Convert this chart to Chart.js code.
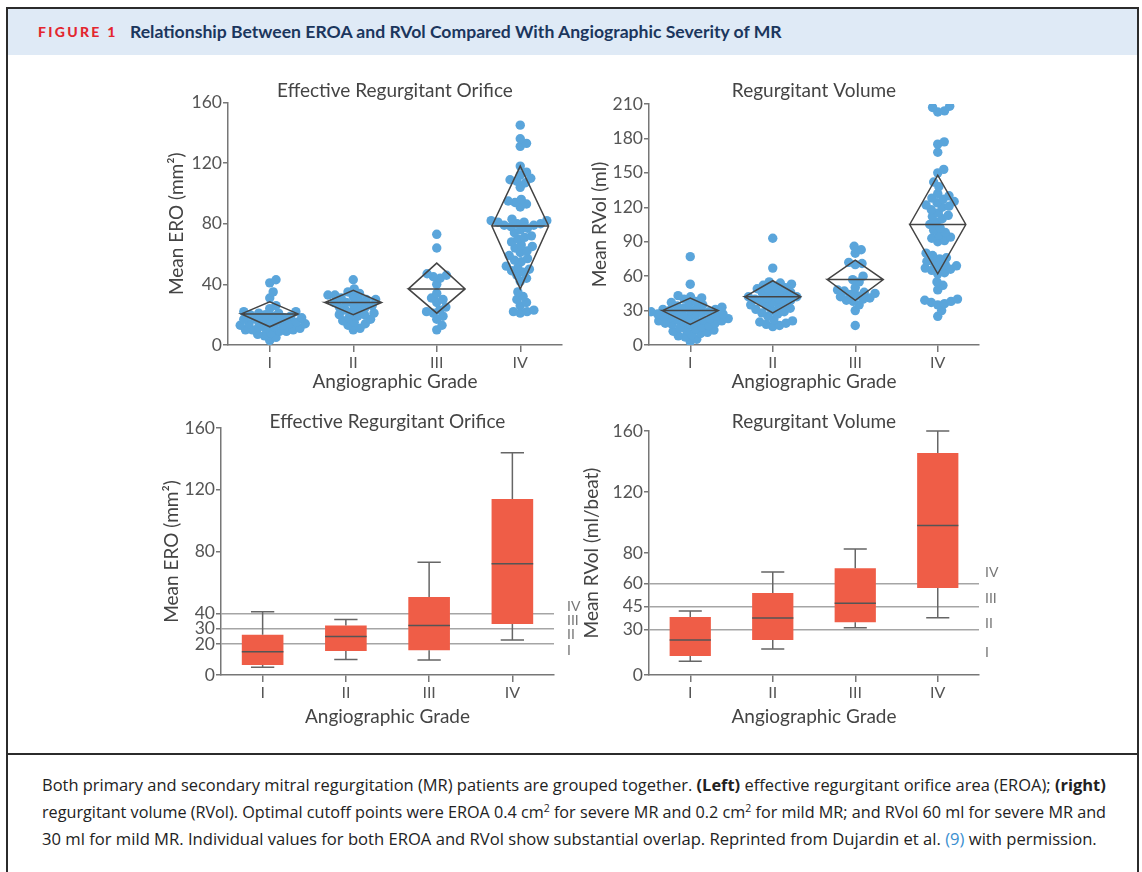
<!DOCTYPE html>
<html>
<head>
<meta charset="utf-8">
<script src="https://cdn.jsdelivr.net/npm/chart.js@4.4.1/dist/chart.umd.min.js"></script>
<style>
  body { margin: 0; background: #fff; width: 1142px; height: 872px; overflow: hidden; position: relative; font-family: Lato, "Open Sans", sans-serif; }
  .frame { position: absolute; left: 6px; top: 7px; width: 1133px; height: 900px; border: 2px solid #2b2b2b; box-sizing: border-box; }
  .head { position: absolute; left: 8px; top: 9px; width: 1129px; height: 46px; background: #dfeaf6; }
  .fig { position: absolute; left: 38px; top: 23px; font-size: 14px; font-weight: 900; letter-spacing: 2.3px; color: #e3262f; }
  .ttl { position: absolute; left: 130px; top: 21px; font-size: 17.6px; font-weight: 700; color: #1b365d; white-space: nowrap; }
  .rule { position: absolute; left: 6px; top: 753px; width: 1133px; height: 2px; background: #2b2b2b; }
  .cap { position: absolute; left: 42px; font-family: "Open Sans", Lato, sans-serif; font-size: 15px; line-height: 20px; color: #222; white-space: nowrap; }
  .cap sup { font-size: 0.65em; line-height: 0; }
  .cap .ref { color: #3a8fd0; }
  canvas { position: absolute; }
</style>
</head>
<body>
<div class="frame"></div>
<div class="head"></div>
<div class="fig">FIGURE 1</div>
<div class="ttl">Relationship Between EROA and RVol Compared With Angiographic Severity of MR</div>
<div class="rule"></div>
<div class="cap" data-w="1065" style="top:775px">Both primary and secondary mitral regurgitation (MR) patients are grouped together. <b>(Left)</b> effective regurgitant orifice area (EROA); <b>(right)</b></div>
<div class="cap" data-w="1064" style="top:802px">regurgitant volume (RVol). Optimal cutoff points were EROA 0.4 cm<sup>2</sup> for severe MR and 0.2 cm<sup>2</sup> for mild MR; and RVol 60 ml for severe MR and</div>
<div class="cap" data-w="1055" style="top:829px">30 ml for mild MR. Individual values for both EROA and RVol show substantial overlap. Reprinted from Dujardin et al. <span class="ref">(9)</span> with permission.</div>

<canvas id="c1" width="420" height="315" style="left:160px;top:78px"></canvas>
<canvas id="c2" width="410" height="315" style="left:586px;top:78px"></canvas>
<canvas id="c3" width="430" height="318" style="left:156px;top:410px"></canvas>
<canvas id="c4" width="430" height="318" style="left:578px;top:410px"></canvas>

<script>
var grades = ['I', 'II', 'III', 'IV'];

// individual patients, top panels
var eroI = [43, 41, 35, 31, 26, 24, 22, 22, 21, 21, 20, 20, 19, 19, 18, 18, 17, 17, 16, 16, 15, 15, 14, 14, 14, 13, 13, 12, 12, 11, 11, 10, 10, 10, 9, 9, 8, 7, 6, 5, 3];
var eroII = [43, 37, 35, 34, 33, 33, 32, 31, 30, 30, 29, 28, 28, 27, 26, 25, 25, 24, 23, 22, 21, 20, 20, 19, 18, 17, 16, 15, 14, 13, 11, 10];
var eroIII = [73, 64, 47, 46, 45, 44, 40, 34, 31, 30, 28, 25, 23, 22, 21, 19, 17, 13, 10];
var eroIV = [145, 136, 133, 131, 118, 114, 112, 110, 109, 108, 107, 104, 96, 95, 94, 93, 91, 83, 82, 82, 81, 81, 80, 80, 79, 79, 78, 77, 76, 74, 72, 71, 70, 68, 66, 65, 64, 62, 61, 59, 57, 56, 55, 52, 51, 50, 49, 48, 46, 44, 42, 35, 32, 30, 28, 26, 23, 22, 22, 21];

var rvI = [77, 53, 43, 42, 41, 40, 38, 37, 36, 35, 34, 33, 32, 32, 31, 31, 30, 30, 29, 29, 28, 28, 27, 27, 26, 26, 25, 25, 24, 24, 23, 23, 22, 22, 21, 21, 20, 20, 19, 19, 18, 18, 17, 16, 15, 14, 13, 13, 12, 11, 10, 9, 8, 7, 5, 3];
var rvII = [93, 67, 55, 54, 53, 52, 51, 50, 49, 48, 47, 46, 45, 44, 43, 42, 42, 41, 40, 40, 39, 38, 37, 36, 35, 34, 33, 32, 31, 30, 29, 28, 27, 25, 22, 21, 20, 19, 18, 17, 16];
var rvIII = [86, 83, 80, 72, 71, 70, 60, 57, 55, 50, 48, 47, 46, 45, 44, 43, 42, 41, 40, 39, 38, 35, 30, 17];
var rvIV = [208, 207, 204, 203, 177, 175, 168, 153, 150, 142, 138, 132, 130, 128, 127, 125, 124, 122, 121, 120, 118, 115, 113, 112, 110, 107, 105, 102, 100, 98, 96, 94, 93, 91, 90, 80, 78, 76, 75, 73, 72, 70, 69, 68, 67, 66, 65, 63, 62, 55, 52, 48, 40, 39, 38, 37, 36, 35, 30, 25];

// mean diamonds
var eroMean = [20.5, 28, 37, 78.5];
var eroLow = [12, 20, 21, 37];
var eroHigh = [28.5, 36, 54, 118];
var rvMean = [30, 42, 57, 105];
var rvLow = [18, 28, 39, 62];
var rvHigh = [41, 56, 74, 148];

// box plots, bottom panels
var eroMin = [5, 10, 9.7, 22.7];
var eroQ1 = [6.5, 15.5, 16, 33];
var eroMed = [15, 25, 32, 72];
var eroQ3 = [26, 32, 50.5, 114];
var eroMax = [41, 36, 73, 144];
var rvMin = [9, 17, 31, 37.5];
var rvQ1 = [12.5, 23, 34.6, 57];
var rvMed = [23, 37.4, 47, 98];
var rvQ3 = [38, 53.8, 70, 145.5];
var rvMax = [42, 67.5, 82.6, 160];

var eroTicks = [0, 20, 30, 40, 80, 120, 160];
var eroCut = [20, 30, 40];
var eroZoneAt = [16, 26, 35.6, 44.7];
var rvTicks = [0, 30, 45, 60, 80, 120, 160];
var rvCut = [30, 45, 60];
var rvZoneAt = [15, 34, 50.5, 67.5];

Chart.defaults.font.family = 'Lato, "Open Sans", sans-serif';
Chart.defaults.color = '#555';
Chart.defaults.animation = false;

var axisGrey = '#777';

// fit caption lines to the measured widths by font size
document.querySelectorAll('.cap').forEach(function (el) {
  var target = +el.dataset.w, w = el.getBoundingClientRect().width;
  el.style.fontSize = (15 * target / w).toFixed(2) + 'px';
});

// beeswarm placement in pixel units, so dots sit side by side
function swarm(values, center, pxX, pxY) {
  var d = 7, placed = [], out = [];
  values.slice().sort(function (a, b) { return a - b; }).forEach(function (v) {
    var y = v * pxY, cands = [0];
    placed.forEach(function (p) {
      var dy = Math.abs(p.y - y);
      if (dy < d) {
        var dx = Math.sqrt(d * d - dy * dy);
        cands.push(p.x + dx, p.x - dx);
      }
    });
    cands.sort(function (a, b) { return Math.abs(a) - Math.abs(b); });
    var x = cands.find(function (c) {
      return placed.every(function (p) { return (p.x - c) * (p.x - c) + (p.y - y) * (p.y - y) >= d * d - 0.01; });
    });
    placed.push({ x: x, y: y });
    out.push({ x: center + x / pxX, y: v });
  });
  return out;
}

function diamond(g, m, lo, hi) {
  var w = 0.34;
  return [{ x: g - w, y: m }, { x: g, y: hi }, { x: g + w, y: m }, { x: g, y: lo }, { x: g - w, y: m }, { x: g + w, y: m }];
}

function swarmChart(id, title, yTitle, groups, mean, low, high, yMax, yStep, pxY, yWidth, rightPad, titlePad, yTitlePad) {
  var pts = [];
  groups.forEach(function (vals, i) { pts = pts.concat(swarm(vals, i + 1, 84, pxY)); });
  var sets = [];
  mean.forEach(function (m, i) {
    sets.push({ data: diamond(i + 1, m, low[i], high[i]), showLine: true, borderColor: '#444', borderWidth: 1.5, pointRadius: 0, fill: false });
  });
  sets.push({ data: pts, backgroundColor: '#5aa5db', pointRadius: 4.7, borderWidth: 0 });
  return new Chart(document.getElementById(id), {
    type: 'scatter',
    data: { datasets: sets },
    options: {
      responsive: false,
      layout: { padding: { right: rightPad } },
      plugins: {
        legend: { display: false },
        tooltip: { enabled: false },
        title: { display: true, text: title, fullSize: false, font: { size: 19, weight: 'normal' }, color: '#444', padding: titlePad }
      },
      scales: {
        x: {
          type: 'linear', min: 0.5, max: 4.5,
          afterBuildTicks: function (s) { s.ticks = grades.map(function (g, i) { return { value: i + 1 }; }); },
          afterFit: function (s) { s.height = 48; },
          ticks: { callback: function (v) { return grades[v - 1]; }, font: { size: 16 }, padding: 1 },
          grid: { drawOnChartArea: false, tickLength: 7, color: axisGrey, lineWidth: 1.5 },
          border: { color: axisGrey, width: 1.5 },
          title: { display: true, text: 'Angiographic Grade', font: { size: 19 }, color: '#444', padding: 0 }
        },
        y: {
          min: 0, max: yMax,
          afterFit: function (s) { s.width = yWidth; },
          ticks: { stepSize: yStep, font: { size: 17.5 }, padding: 1 },
          grid: { drawOnChartArea: false, tickLength: 5, color: axisGrey, lineWidth: 1.5 },
          border: { color: axisGrey, width: 1.5 },
          title: { display: true, text: yTitle, font: { size: 19 }, color: '#444', padding: { top: yTitlePad, bottom: 0 } }
        }
      }
    }
  });
}

function whiskers(min, q1, med, q3, max) {
  return {
    id: 'whiskers',
    afterDatasetsDraw: function (chart) {
      var ctx = chart.ctx, y = chart.scales.y;
      ctx.save();
      chart.getDatasetMeta(0).data.forEach(function (bar, i) {
        var cx = bar.x, half = bar.width / 2, cap = half * 0.56;
        ctx.strokeStyle = '#666';
        ctx.lineWidth = 1.5;
        ctx.beginPath();
        ctx.moveTo(cx, y.getPixelForValue(q3[i]));
        ctx.lineTo(cx, y.getPixelForValue(max[i]));
        ctx.moveTo(cx - cap, y.getPixelForValue(max[i]));
        ctx.lineTo(cx + cap, y.getPixelForValue(max[i]));
        ctx.moveTo(cx, y.getPixelForValue(q1[i]));
        ctx.lineTo(cx, y.getPixelForValue(min[i]));
        ctx.moveTo(cx - cap, y.getPixelForValue(min[i]));
        ctx.lineTo(cx + cap, y.getPixelForValue(min[i]));
        ctx.stroke();
        ctx.strokeStyle = '#555';
        ctx.beginPath();
        ctx.moveTo(cx - half, y.getPixelForValue(med[i]));
        ctx.lineTo(cx + half, y.getPixelForValue(med[i]));
        ctx.stroke();
      });
      ctx.restore();
    }
  };
}

function boxChart(id, title, yTitle, min, q1, med, q3, max, ticks, cuts, zoneAt, yWidth, zoneWidth, zonePad, titlePad, yTitlePad) {
  return new Chart(document.getElementById(id), {
    type: 'bar',
    data: {
      labels: grades,
      datasets: [{
        data: q1.map(function (v, i) { return [v, q3[i]]; }),
        backgroundColor: '#ef5d47', borderWidth: 0, barPercentage: 0.5, categoryPercentage: 1
      }]
    },
    plugins: [whiskers(min, q1, med, q3, max)],
    options: {
      responsive: false,
      plugins: {
        legend: { display: false },
        tooltip: { enabled: false },
        title: { display: true, text: title, fullSize: false, font: { size: 19, weight: 'normal' }, color: '#444', padding: titlePad }
      },
      scales: {
        x: {
          afterFit: function (s) { s.height = 53; },
          ticks: { font: { size: 16 }, padding: 1 },
          grid: { offset: false, drawOnChartArea: false, tickLength: 7, color: axisGrey, lineWidth: 1.5 },
          border: { color: axisGrey, width: 1.5 },
          title: { display: true, text: 'Angiographic Grade', font: { size: 19 }, color: '#444', padding: 0 }
        },
        y: {
          min: 0, max: 160, z: 1,
          afterBuildTicks: function (s) { s.ticks = ticks.map(function (v) { return { value: v }; }); },
          afterFit: function (s) { s.width = yWidth; },
          ticks: { autoSkip: false, font: { size: 17.5 }, padding: 1 },
          grid: {
            color: function (c) { return c.tick && cuts.indexOf(c.tick.value) >= 0 ? '#a5a5a5' : 'rgba(0,0,0,0)'; },
            tickColor: axisGrey, tickLength: 5, lineWidth: 1.5
          },
          border: { color: axisGrey, width: 1.5 },
          title: { display: true, text: yTitle, font: { size: 19 }, color: '#444', padding: { top: yTitlePad, bottom: 0 } }
        },
        zone: {
          type: 'linear', position: 'right', min: 0, max: 160, display: true,
          afterBuildTicks: function (s) { s.ticks = zoneAt.map(function (v) { return { value: v }; }); },
          afterFit: function (s) { s.width = zoneWidth; },
          ticks: { autoSkip: false, callback: function (v, i) { return grades[i]; }, font: { size: 14 }, color: '#777', padding: zonePad },
          grid: { display: false },
          border: { display: false }
        }
      }
    }
  });
}

swarmChart('c1', 'Effective Regurgitant Orifice', 'Mean ERO (mm\u00b2)', [eroI, eroII, eroIII, eroIV], eroMean, eroLow, eroHigh, 160, 40, 1.525, 68, 18, { top: 1.6, bottom: 0 }, 5.6);
swarmChart('c2', 'Regurgitant Volume', 'Mean RVol (ml)', [rvI, rvII, rvIII, rvIV], rvMean, rvLow, rvHigh, 210, 30, 1.152, 63, 17, { top: 1.6, bottom: 1.6 }, 2.6);
boxChart('c3', 'Effective Regurgitant Orifice', 'Mean ERO (mm\u00b2)', eroMin, eroQ1, eroMed, eroQ3, eroMax, eroTicks, eroCut, eroZoneAt, 65, 32, 5, { top: 0, bottom: -4.8 }, 4.6);
boxChart('c4', 'Regurgitant Volume', 'Mean RVol (ml/beat)', rvMin, rvQ1, rvMed, rvQ3, rvMax, rvTicks, rvCut, rvZoneAt, 71, 29, -2, { top: 0, bottom: -1.8 }, 2.6);
</script>
</body>
</html>
